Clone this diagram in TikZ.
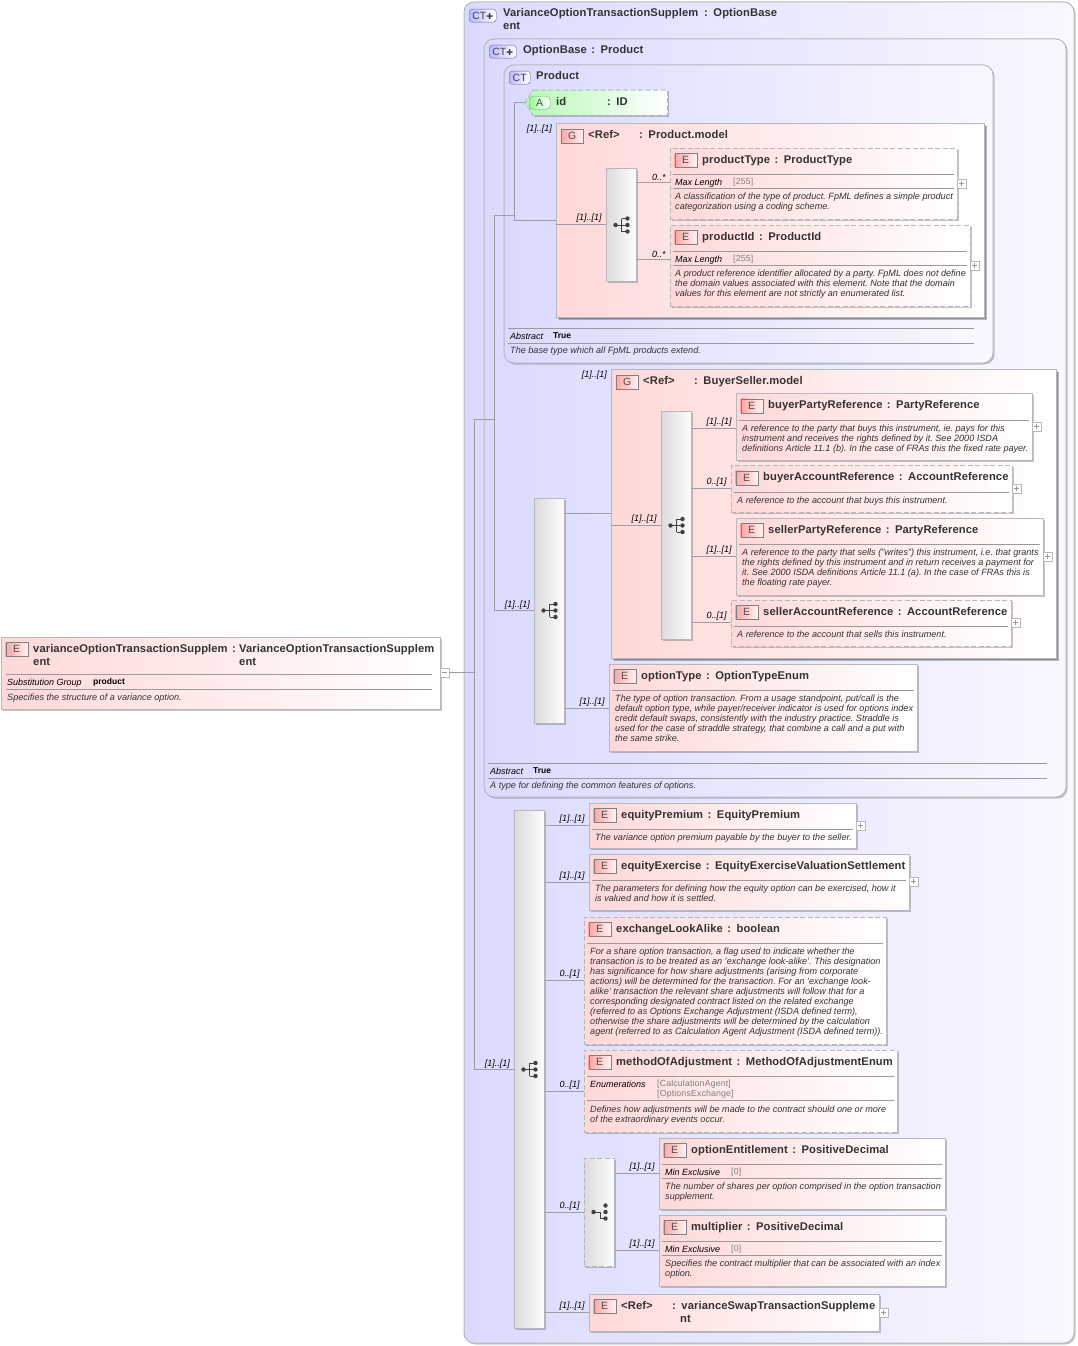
\documentclass[tikz,border=0pt]{standalone}
\usepackage{fontspec}
\setmainfont{Liberation Sans}
\newfontfamily\symfont{DejaVu Sans}
\newfontfamily\titlefont[LetterSpace=0.8,WordSpace=1.4]{Liberation Sans}
\newfontfamily\valuefont[LetterSpace=1.5]{Liberation Sans}
\usepackage{tikz}
\usetikzlibrary{shadows}
\definecolor{boxline}{HTML}{B8B8BC}
\definecolor{wireline}{HTML}{9C9CA4}
\definecolor{ruleline}{HTML}{9A9A9A}
\definecolor{inktext}{HTML}{333333}
\definecolor{typefill}{HTML}{DADAFF}
\definecolor{typeend}{HTML}{F8F8FF}
\definecolor{elemfill}{HTML}{FFD8D8}
\definecolor{attrfill}{HTML}{B4F8B4}
\tikzstyle{softshadow} = [drop shadow={shadow xshift=1.5pt, shadow yshift=-1.5pt, fill=black, opacity=0.22}]
\tikzstyle{typebox} = [rectangle, rounded corners=10pt, anchor=north west, xshift=-0.5pt, yshift=0.5pt, inner sep=0pt, draw=boxline, line width=1pt, left color=typefill, right color=typeend, softshadow]
\tikzstyle{elembox} = [rectangle, anchor=north west, xshift=-0.5pt, yshift=0.5pt, inner sep=0pt, draw=boxline, line width=1pt, left color=elemfill, right color=white, softshadow]
\tikzstyle{optbox} = [elembox, dash pattern=on 5pt off 2.5pt]
\tikzstyle{groupbox} = [elembox, drop shadow={shadow xshift=2.5pt, shadow yshift=-2.5pt, fill=black, opacity=0.25}]
\tikzstyle{attrframe} = [anchor=north west, inner sep=0pt]
\tikzstyle{attrbox} = [draw=boxline, line width=1pt, dash pattern=on 5pt off 2.5pt, left color=attrfill, right color=white, softshadow]
\tikzstyle{seqbar} = [rectangle, anchor=north west, xshift=-0.5pt, yshift=0.5pt, inner sep=0pt, minimum width=30pt, draw=boxline, line width=1pt, left color=black!14, right color=black!1, softshadow]
\tikzstyle{optbar} = [seqbar, dash pattern=on 5pt off 2.5pt]
\tikzstyle{badge} = [rectangle, anchor=north west, inner sep=0pt, minimum width=22pt, minimum height=14pt, draw=black!50, left color=red!35, right color=red!5, text=black!70, font=\fontsize{10.5}{10}\selectfont]
\tikzstyle{ctbadge} = [badge, rounded corners=3pt, draw=black!60!blue!60, left color=typefill!85!blue, right color=white, text=black!75]
\tikzstyle{abadge} = [badge, rounded corners=4pt, draw=black!55!green!60, left color=attrfill!85!green, right color=white]
\tikzstyle{title} = [anchor=base west, inner sep=0pt, text=inktext, font=\fontsize{11.2}{13}\titlefont\bfseries]
\tikzstyle{desc} = [anchor=north west, yshift=-1.5pt, inner sep=0pt, align=left, text=inktext, font=\fontsize{9.1}{10}\selectfont\itshape\frenchspacing, execute at begin node=\strut]
\tikzstyle{proplabel} = [anchor=base west, inner sep=0pt, text=black, font=\fontsize{9}{10}\selectfont\itshape]
\tikzstyle{propvalue} = [anchor=base west, inner sep=0pt, text=black!50, font=\fontsize{8.8}{10}\valuefont]
\tikzstyle{propbold} = [anchor=base west, inner sep=0pt, text=black, font=\fontsize{8.5}{10}\selectfont\bfseries]
\tikzstyle{occurs} = [inner sep=0pt, text=black, font=\fontsize{9}{10}\selectfont\itshape]
\tikzstyle{conn} = [draw=wireline, line width=0.8pt]
\tikzstyle{sepline} = [draw=ruleline, line width=0.7pt]
\tikzstyle{toggleplus} = [rectangle, anchor=west, inner sep=0pt, minimum size=9pt, draw=boxline, fill=white, path picture={\draw [black!40, line width=0.5pt] ([xshift=2pt]path picture bounding box.west) -- ([xshift=-2pt]path picture bounding box.east) ([yshift=-2pt]path picture bounding box.north) -- ([yshift=2pt]path picture bounding box.south);}]
\tikzstyle{toggleminus} = [toggleplus, path picture={\draw [black!40, line width=0.5pt] ([xshift=2pt]path picture bounding box.west) -- ([xshift=-2pt]path picture bounding box.east);}]
\tikzset{
  pics/seqmark/.style={code={
    \draw [black!75, line width=0.7pt] (-5.5,0) -- (6.5,0) (0.5,-6.5) -- (0.5,6.5) (0.5,-6.5) -- (6.5,-6.5) (0.5,6.5) -- (6.5,6.5);
    \foreach \dy in {-6.5,0,6.5} \fill [black!75] (6.5,\dy) circle (2.2pt);
    \fill [black!75] (-5.5,0) circle (2.2pt);
  }},
  pics/choicemark/.style={code={
    \draw [black!75, line width=0.7pt] (-5.5,0) -- (1.5,0) -- (1.5,6.5) -- (6.5,6.5);
    \foreach \dy in {-6.5,0,6.5} \fill [black!75] (6.5,\dy) circle (2.2pt);
    \fill [black!75] (-5.5,0) circle (2.2pt);
  }}
}
% element box with badge and title line
\newcommand{\elem}[7][elembox]{
  \node (#2) [#1, minimum width=#5pt, minimum height=#6pt] at (#3,#4) {};
  \node (#2Badge) [badge] at ([xshift=5pt,yshift=-5.5pt]#2.north west) {E};
  \node (#2Title) [title] at ([xshift=32.5pt,yshift=-15.5pt]#2.north west) {#7};
}
\newcommand{\rowline}[2]{\draw [sepline] ([xshift=3pt,yshift=-#2pt-0.5pt]#1.north west) -- ([xshift=-4pt,yshift=-#2pt-0.5pt]#1.north east);}
% wire at height y, with occurrence label at its end
\newcommand{\wire}[4]{\draw [conn] (#1 |- 0,#3) -- (#2 |- 0,#3) node [occurs, anchor=south east, at end, xshift=-3.5pt, yshift=1.5pt] {#4};}
\begin{document}
\begin{tikzpicture}[x=1pt,y=-1pt]
\useasboundingbox (0,0) rectangle (1078,1346);

% root element
\elem{rootElem}{1}{637}{439}{72}{varianceOptionTransactionSupplem}
\node (rootTitleB) [title] at (33,665) {ent};
\node (rootColon) [title] at (232,652) {:};
\node (rootType) [title] at (239,652) {VarianceOptionTransactionSupplem};
\node (rootTypeB) [title] at (239,665) {ent};
\draw [sepline] (6,674) -- (432,674);
\draw [sepline] (6,689) -- (432,689);
\node (rootSubst) [proplabel] at (7,685) {Substitution Group};
\node (rootSubstVal) [propbold] at (93,684) {product};
\node (rootDesc) [desc] at (7,692) {Specifies the structure of a variance option.};
\node (rootToggle) [toggleminus] at (440,672.5) {};

% outer complex types
\node (outerType) [typebox, minimum width=610pt, minimum height=1341pt] at (464,2) {};
\node (outerBadge) [ctbadge, minimum width=27pt, minimum height=13pt] at (469,9) {CT{\symfont\fontsize{8}{8}\selectfont ✚}};
\node (outerTitle) [title] at (503,17) {VarianceOptionTransactionSupplem};
\node (outerTitleB) [title] at (503,30) {ent};
\node (outerType2) [title] at (704,17) {: OptionBase};
\node (baseType) [typebox, minimum width=582pt, minimum height=758pt] at (484,39) {};
\node (baseBadge) [ctbadge, minimum width=27pt, minimum height=13pt] at (489,45) {CT{\symfont\fontsize{8}{8}\selectfont ✚}};
\node (baseTitle) [title] at (523,54) {OptionBase : Product};
\node (productType_) [typebox, minimum width=489pt, minimum height=298pt] at (504,65) {};
\node (productBadge) [ctbadge, minimum width=21pt, minimum height=13pt] at (509,71) {CT};
\node (productTitle) [title] at (536,80) {Product};

% attribute
\node (attrId) [attrframe, minimum width=142pt, minimum height=25pt] at (525,90) {};
\path [attrbox] ([xshift=8pt]attrId.north west) -- (attrId.north east) -- (attrId.south east) -- ([xshift=8pt]attrId.south west) -- (attrId.west) -- cycle;
\node (attrBadge) [abadge, minimum width=21pt, minimum height=13pt] at (529,96) {A};
\node (attrName) [title] at (556,105) {id};
\node (attrType) [title] at (607,105) {: ID};

% Product.model
\node (productModel) [groupbox, minimum width=428pt, minimum height=194pt] at (556,123) {};
\node (productModelBadge) [badge] at (561,129) {G};
\node (productModelRef) [title] at (588,138) {<Ref>};
\node (productModelName) [title] at (639,138) {: Product.model};
\node (productModelOcc) [occurs, anchor=base east] at (552,131) {[1]..[1]};
\node (modelSeq) [seqbar, minimum height=113pt] at (606,168) {};
\pic at (621,225) {seqmark};

\elem[optbox]{productType}{670}{148}{287}{71}{productType : ProductType}
\rowline{productType}{26}
\rowline{productType}{40}
\node (ptLabel) [proplabel] at (675,185) {Max Length};
\node (ptValue) [propvalue] at (733,184) {[255]};
\node (ptDesc) [desc] at (675,191) {A classification of the type of product. FpML defines a simple product\\categorization using a coding scheme.};
\node (ptToggle) [toggleplus] at (957,183.5) {};

\elem[optbox]{productId}{670}{225}{300}{81}{productId : ProductId}
\rowline{productId}{26}
\rowline{productId}{40}
\node (piLabel) [proplabel] at (675,262) {Max Length};
\node (piValue) [propvalue] at (733,261) {[255]};
\node (piDesc) [desc] at (675,268) {A product reference identifier allocated by a party. FpML does not define\\the domain values associated with this element. Note that the domain\\values for this element are not strictly an enumerated list.};
\node (piToggle) [toggleplus] at (970,265.5) {};

\draw [sepline] (508,328) -- (974,328);
\draw [sepline] (508,343) -- (974,343);
\node (productAbs) [proplabel] at (510,339) {Abstract};
\node (productAbsVal) [propbold] at (553,338) {True};
\node (productDesc) [desc] at (510,345) {The base type which all FpML products extend.};

% BuyerSeller.model
\node (baseSeq) [seqbar, minimum height=225pt] at (534,498) {};
\pic at (549,610.5) {seqmark};
\node (buyerSeller) [groupbox, minimum width=445pt, minimum height=289pt] at (611,369) {};
\node (buyerSellerBadge) [badge] at (616,375) {G};
\node (buyerSellerRef) [title] at (643,384) {<Ref>};
\node (buyerSellerName) [title] at (694,384) {: BuyerSeller.model};
\node (buyerSellerOcc) [occurs, anchor=base east] at (607,377) {[1]..[1]};
\node (buyerSeq) [seqbar, minimum height=228pt] at (661,411) {};
\pic at (676,525.5) {seqmark};

\elem{buyerParty}{736}{393.5}{296}{67}{buyerPartyReference : PartyReference}
\rowline{buyerParty}{26.5}
\node (bpDesc) [desc] at (742,423) {A reference to the party that buys this instrument, ie. pays for this\\instrument and receives the rights defined by it. See 2000 ISDA\\definitions Article 11.1 (b). In the case of FRAs this the fixed rate payer.};
\node (bpToggle) [toggleplus] at (1032,426.5) {};

\elem[optbox]{buyerAccount}{731}{465.5}{281}{47}{buyerAccountReference : AccountReference}
\rowline{buyerAccount}{26.5}
\node (baDesc) [desc] at (737,495) {A reference to the account that buys this instrument.};
\node (baToggle) [toggleplus] at (1012,488.5) {};

\elem{sellerParty}{736}{518}{307}{77}{sellerPartyReference : PartyReference}
\rowline{sellerParty}{26}
\node (spDesc) [desc] at (742,547) {A reference to the party that sells ("writes") this instrument, i.e. that grants\\the rights defined by this instrument and in return receives a payment for\\it. See 2000 ISDA definitions Article 11.1 (a). In the case of FRAs this is\\the floating rate payer.};
\node (spToggle) [toggleplus] at (1043,556.5) {};

\elem[optbox]{sellerAccount}{731}{600}{280}{46}{sellerAccountReference : AccountReference}
\rowline{sellerAccount}{26}
\node (saDesc) [desc] at (737,629) {A reference to the account that sells this instrument.};
\node (saToggle) [toggleplus] at (1011,622.5) {};

\elem{optionType}{609}{664}{308}{87}{optionType : OptionTypeEnum}
\rowline{optionType}{26}
\node (otDesc) [desc] at (615,693) {The type of option transaction. From a usage standpoint, put/call is the\\default option type, while payer/receiver indicator is used for options index\\credit default swaps, consistently with the industry practice. Straddle is\\used for the case of straddle strategy, that combine a call and a put with\\the same strike.};

\draw [sepline] (488,763) -- (1047,763);
\draw [sepline] (488,778) -- (1047,778);
\node (baseAbs) [proplabel] at (490,774) {Abstract};
\node (baseAbsVal) [propbold] at (533,773) {True};
\node (baseDesc) [desc] at (490,780) {A type for defining the common features of options.};

% variance option content
\node (mainSeq) [seqbar, minimum height=518pt] at (514,810) {};
\pic at (529,1069.5) {seqmark};

\elem{equityPremium}{589}{803}{267}{45}{equityPremium : EquityPremium}
\rowline{equityPremium}{26}
\node (epDesc) [desc] at (595,832) {The variance option premium payable by the buyer to the seller.};
\node (epToggle) [toggleplus] at (856,825.5) {};

\elem{equityExercise}{589}{854}{320}{56}{equityExercise : EquityExerciseValuationSettlement}
\rowline{equityExercise}{26}
\node (eeDesc) [desc] at (595,883) {The parameters for defining how the equity option can be exercised, how it\\is valued and how it is settled.};
\node (eeToggle) [toggleplus] at (909,881.5) {};

\elem[optbox]{exchangeLookAlike}{584}{917}{302}{127}{exchangeLookAlike : boolean}
\rowline{exchangeLookAlike}{26}
\node (elDesc) [desc] at (590,946) {For a share option transaction, a flag used to indicate whether the\\transaction is to be treated as an 'exchange look-alike'. This designation\\has significance for how share adjustments (arising from corporate\\actions) will be determined for the transaction. For an 'exchange look-\\alike' transaction the relevant share adjustments will follow that for a\\corresponding designated contract listed on the related exchange\\(referred to as Options Exchange Adjustment (ISDA defined term),\\otherwise the share adjustments will be determined by the calculation\\agent (referred to as Calculation Agent Adjustment (ISDA defined term)).};

\elem[optbox]{methodOfAdjustment}{584}{1050}{313}{82}{methodOfAdjustment : MethodOfAdjustmentEnum}
\rowline{methodOfAdjustment}{26}
\rowline{methodOfAdjustment}{50}
\node (maLabel) [proplabel] at (590,1087) {Enumerations};
\node (maValueA) [propvalue] at (657,1086) {[CalculationAgent]};
\node (maValueB) [propvalue] at (657,1096) {[OptionsExchange]};
\node (maDesc) [desc] at (590,1104) {Defines how adjustments will be made to the contract should one or more\\of the extraordinary events occur.};

\node (choiceBar) [optbar, minimum height=108pt] at (584,1158) {};
\pic at (599,1212) {choicemark};

\elem{optionEntitlement}{659}{1138}{286}{71}{optionEntitlement : PositiveDecimal}
\rowline{optionEntitlement}{26}
\rowline{optionEntitlement}{40}
\node (oeLabel) [proplabel] at (665,1175) {Min Exclusive};
\node (oeValue) [propvalue] at (731,1174) {[0]};
\node (oeDesc) [desc] at (665,1181) {The number of shares per option comprised in the option transaction\\supplement.};

\elem{multiplier}{659}{1215}{286}{71}{multiplier : PositiveDecimal}
\rowline{multiplier}{26}
\rowline{multiplier}{40}
\node (muLabel) [proplabel] at (665,1252) {Min Exclusive};
\node (muValue) [propvalue] at (731,1251) {[0]};
\node (muDesc) [desc] at (665,1258) {Specifies the contract multiplier that can be associated with an index\\option.};

\elem{swapRef}{589}{1294}{290}{37}{<Ref>}
\node (swapRefType) [title] at (672,1309) {: varianceSwapTransactionSuppleme};
\node (swapRefTypeB) [title] at (680,1322) {nt};
\node (swapToggle) [toggleplus] at (879,1312.5) {};

% trunk lines
\coordinate (busMain) at (474,672.5);
\coordinate (busSplit) at (474,419);
\coordinate (busBase) at (494.5,419);
\coordinate (busProduct) at (494.5,215);
\coordinate (busProductB) at (514,215);
\coordinate (busProductC) at (514,220);
\draw [conn] (rootToggle.east) -- (busMain);
\draw [conn] (mainSeq.west |- 0,1069.5) -| (busSplit) -- (busBase);
\draw [conn] (baseSeq.west |- 0,610.5) -| (busProduct) -- (busProductB);
\draw [conn] (attrId.west) -| (busProductC) -- (productModel.west |- busProductC);
\draw [conn] (baseSeq.east |- 0,513.5) -- (buyerSeller.west |- 0,513.5);
\node (mainOcc) [occurs, anchor=base east] at (510,1066.5) {[1]..[1]};
\node (baseOcc) [occurs, anchor=base east] at (530,607.5) {[1]..[1]};

% element wires
\wire{productModel.west}{modelSeq.west}{224}{[1]..[1]}
\wire{modelSeq.east}{productType.west}{182.5}{0..*}
\wire{modelSeq.east}{productId.west}{259.5}{0..*}
\wire{buyerSeller.west}{buyerSeq.west}{525}{[1]..[1]}
\wire{buyerSeq.east}{buyerParty.west}{428}{[1]..[1]}
\wire{buyerSeq.east}{buyerAccount.west}{488}{0..[1]}
\wire{buyerSeq.east}{sellerParty.west}{556}{[1]..[1]}
\wire{buyerSeq.east}{sellerAccount.west}{622}{0..[1]}
\wire{baseSeq.east}{optionType.west}{708}{[1]..[1]}
\wire{mainSeq.east}{equityPremium.west}{825}{[1]..[1]}
\wire{mainSeq.east}{equityExercise.west}{882}{[1]..[1]}
\wire{mainSeq.east}{exchangeLookAlike.west}{980}{0..[1]}
\wire{mainSeq.east}{methodOfAdjustment.west}{1091}{0..[1]}
\wire{mainSeq.east}{choiceBar.west}{1212}{0..[1]}
\wire{choiceBar.east}{optionEntitlement.west}{1173}{[1]..[1]}
\wire{choiceBar.east}{multiplier.west}{1250}{[1]..[1]}
\wire{mainSeq.east}{swapRef.west}{1312}{[1]..[1]}
\end{tikzpicture}
\end{document}
